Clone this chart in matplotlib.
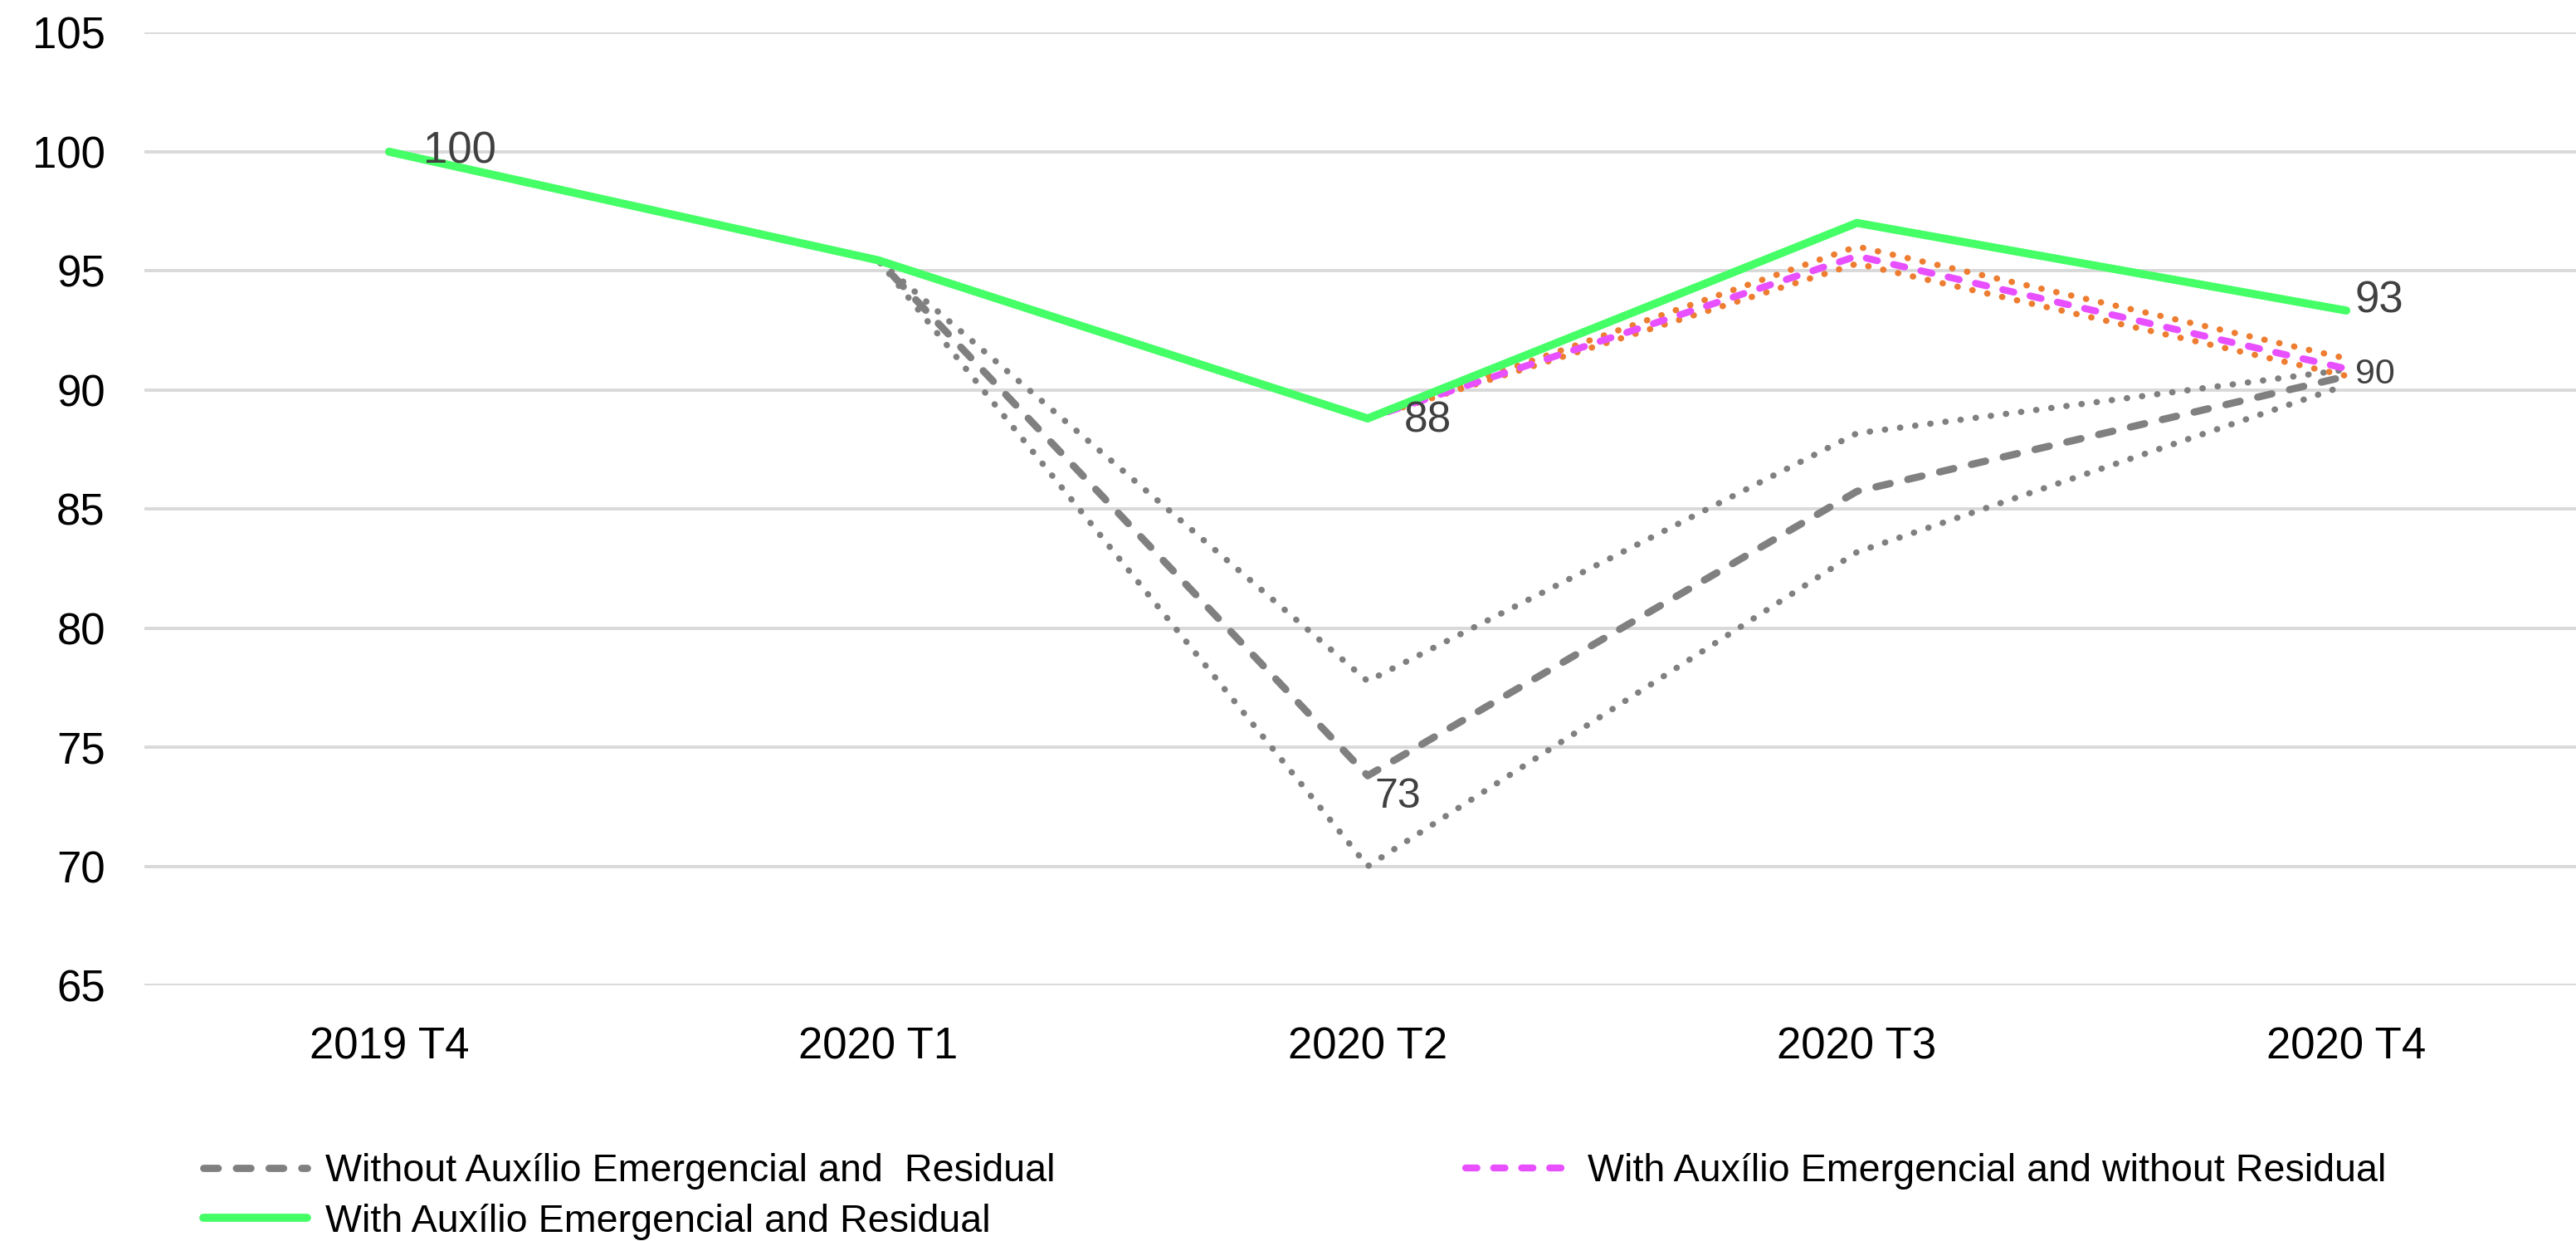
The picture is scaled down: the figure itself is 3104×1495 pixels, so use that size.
import numpy as np
import matplotlib
matplotlib.use("Agg")
import matplotlib.pyplot as plt
from matplotlib import font_manager

# 값은 그림에서 읽은 추정치
quarters = ["2019 T4", "2020 T1", "2020 T2", "2020 T3", "2020 T4"]
with_ae_and_res = [100.0, 95.44, 88.80, 97.01, 93.33]
with_ae_no_res = [100.0, 95.44, 88.80, 95.62, 90.89]
with_ae_no_res_hi = [100.0, 95.44, 88.80, 96.02, 91.32]
with_ae_no_res_lo = [100.0, 95.44, 88.80, 95.30, 90.59]
without_ae = [100.0, 95.44, 73.80, 85.74, 90.57]
without_ae_hi = [100.0, 95.44, 77.77, 88.18, 90.85]
without_ae_lo = [100.0, 95.44, 70.00, 83.19, 90.20]

label_text = {"100": (0, 100.0), "88": (2, 88.80), "73": (2, 73.80),
              "93": (4, 93.33), "90": (4, 90.89)}

names = {f.name for f in font_manager.fontManager.ttflist}
base_font = "Liberation Sans" if "Liberation Sans" in names else "DejaVu Sans"
plt.rcParams["font.family"] = [base_font, "DejaVu Sans"]

GRAY = "#808080"
GREEN = "#44FF66"
MAGENTA = "#E850FF"
ORANGE = "#ED7D31"
TXT = "#404040"

W, H = 3104, 1495
fig = plt.figure(figsize=(W / 100, H / 100), dpi=100)
ax = fig.add_axes([174 / W, 1 - 1187 / H, (3122 - 174) / W, (1187 - 39.3) / H])
x = np.arange(len(quarters))

dot = (0, (0.05, 2.4))
kw_dot = dict(lw=5.4, dash_capstyle="round", solid_capstyle="round")
ax.plot(x, without_ae_hi, color=GRAY, linestyle=dot, zorder=3, **kw_dot)
ax.plot(x, without_ae_lo, color=GRAY, linestyle=dot, zorder=3, **kw_dot)
l_without, = ax.plot(x, without_ae, color=GRAY, lw=6.3, linestyle=(0, (2.0, 2.5)),
                     dash_capstyle="round", zorder=4,
                     label="Without Auxílio Emergencial and  Residual")
ax.plot(x, with_ae_no_res_hi, color=ORANGE, linestyle=dot, zorder=5, **kw_dot)
ax.plot(x, with_ae_no_res_lo, color=ORANGE, linestyle=dot, zorder=5, **kw_dot)
l_no_res, = ax.plot(x, with_ae_no_res, color=MAGENTA, lw=6.0, linestyle=(0, (1.65, 2.4)),
                    dash_capstyle="round", zorder=6,
                    label="With Auxílio Emergencial and without Residual")
l_res, = ax.plot(x, with_ae_and_res, color=GREEN, lw=7.0, solid_capstyle="round",
                 zorder=7, label="With Auxílio Emergencial and Residual")

# 데이터 라벨
offsets = {"100": (0.07, 0.0, 38), "88": (0.075, -0.1, 37), "73": (0.015, -0.9, 36),
           "93": (0.017, 0.4, 38), "90": (0.018, -0.23, 31)}
for txt, (i, v) in label_text.items():
    dx, dy, fs = offsets[txt]
    ax.text(x[i] + dx, v + dy, txt, ha="left", va="center", fontsize=fs,
            color=TXT, zorder=8)

ax.set_xlim(-0.5, len(quarters) - 0.5)
ax.set_ylim(65, 105)
ax.set_yticks(np.arange(65, 106, 5))
ax.set_xticks(x)
ax.set_xticklabels(quarters)
ax.tick_params(axis="y", length=0, pad=34, labelsize=38)
ax.tick_params(axis="x", length=0, pad=36, labelsize=38)
ax.grid(axis="y", color="#D9D9D9", lw=2.8, zorder=0)
for s in ax.spines.values():
    s.set_visible(False)

fig.legend(handles=[l_without, l_res, l_no_res], ncol=2, frameon=False,
           loc="upper left", bbox_to_anchor=(245 / W, 1 - 1389 / H),
           borderpad=0, borderaxespad=0, handlelength=2.68, handletextpad=0.47,
           columnspacing=10.6, labelspacing=0.36,
           prop={"size": 33.6})

fig.savefig("out.png", dpi=100)
